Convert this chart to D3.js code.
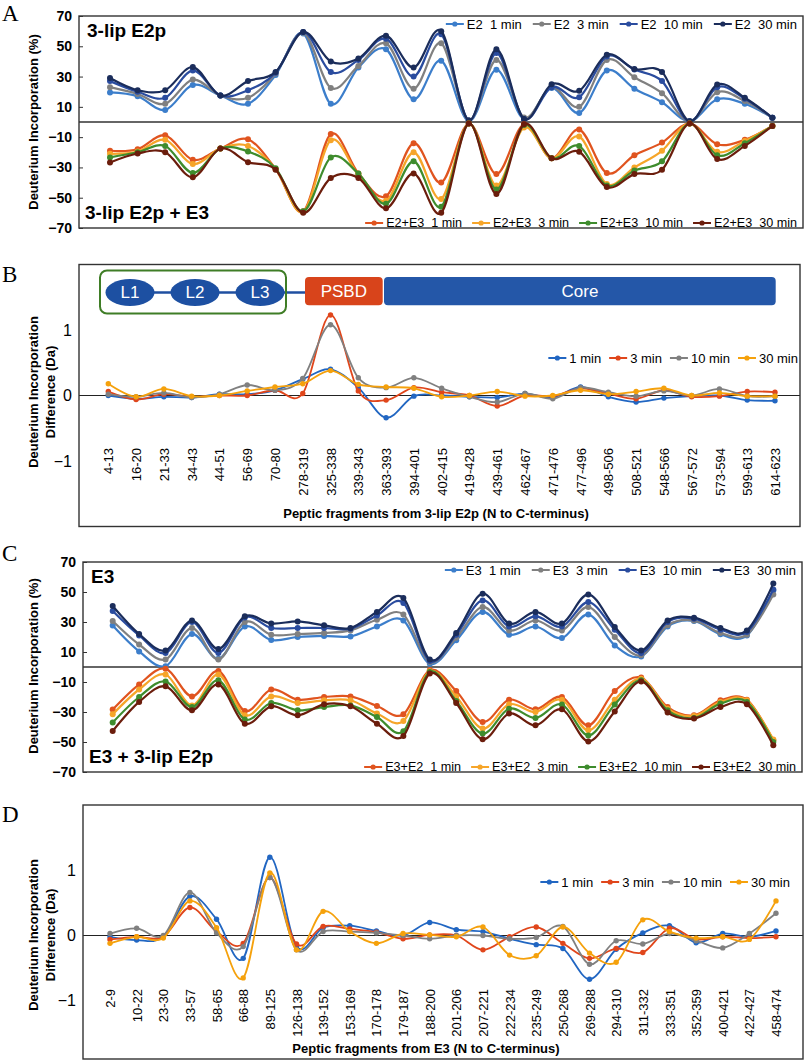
<!DOCTYPE html>
<html><head><meta charset="utf-8">
<script src="https://cdn.jsdelivr.net/npm/d3@7"></script>
<style>
body{margin:0;background:#fff}
svg{display:block}
text{font-family:"Liberation Sans",Arial,sans-serif;fill:#000}
</style>
</head><body>
<svg id="chart" width="805" height="1061"></svg>
<script>
// ---------- DATA ----------
const fragE2p = ["4-13","16-20","21-33","34-43","44-51","56-69","70-80","278-319","325-338","339-343","363-393","394-401","402-415","419-428","439-461","462-467","471-476","477-496","498-506","508-521","548-566","567-572","573-594","599-613","614-623"];
const fragE3 = ["2-9","10-22","23-30","33-57","58-65","66-88","89-125","126-138","139-152","153-169","170-178","179-187","188-200","201-206","207-221","222-234","235-249","250-268","269-288","294-310","311-332","333-351","352-359","400-421","422-427","458-474"];
const timeLabels = ["1 min","3 min","10 min","30 min"];
const ticksPercent = [70,50,30,10,-10,-30,-50,-70];
const ticksDa = [1,0,-1];

// Panel A: 3-lip E2p alone (upper) and with E3 (lower), % incorporation
const aE2_1  = [19.5,17,8,24.5,17.5,12,31,58.5,12,36,48,15,40.5,0.5,34.5,2,22.5,6,34,22,13,0.5,15,12,2.8];
const aE2_3  = [23,18.5,12,28,17.5,16,32,59,22.5,37,52,22,52,1,41,3,23,10,41,29.5,19,0.5,19.7,13.8,2.8];
const aE2_10 = [27,20,16,34,17.5,21,32.5,59.5,33,41,55,30,58,1,45.5,2,23,16.4,43.3,34.6,27,0.5,23,15.3,2.8];
const aE2_30 = [29,21,21,36.3,17.5,27,33,59.5,40,42,57,36,60,1,48,2,25,20.6,44.4,35,33,0.5,24.7,16,2.8];
const aE2E3_1  = [-19,-18,-8.8,-25,-17.5,-11.4,-31,-59,-8,-34,-49,-14,-40,-1,-34.4,-1.5,-24,-5,-33.7,-22,-13.6,-1,-14.7,-11.8,-2.6];
const aE2E3_3  = [-21,-19.5,-11.8,-27.8,-17.5,-15.8,-31,-59.5,-12,-35,-52,-20,-50.8,-1,-42,-3.7,-24,-9.6,-41,-30,-19,-1,-19.7,-12.5,-2.6];
const aE2E3_10 = [-23.4,-20,-15.8,-33.7,-17.5,-19.5,-30.5,-59,-23.4,-34,-54,-26,-56,-1,-44.6,-2,-24,-15.8,-42,-32,-26,-1,-22,-14,-2.6];
const aE2E3_30 = [-26.7,-20.8,-20,-36.5,-17.5,-26.5,-31.5,-60,-37,-37,-57,-34,-60,-1,-47.5,-1.5,-24,-19.7,-43,-34.4,-31.5,-1,-24.5,-15.8,-2.6];

// Panel B: difference (Da) for 3-lip E2p
const bDiff_1  = [0.0,-0.05,-0.02,-0.03,0.02,0.02,0.08,0.25,0.40,0.12,-0.34,-0.01,0.0,-0.02,-0.03,0.03,-0.03,0.13,-0.02,-0.1,-0.04,-0.01,0.0,-0.07,-0.08];
const bDiff_3  = [0.06,-0.06,0.02,-0.02,0.0,0.0,0.08,0.03,1.23,0.07,-0.07,0.12,0.05,0.0,-0.16,0.0,-0.01,0.11,0.03,-0.05,0.08,-0.02,-0.01,0.06,0.05];
const bDiff_10 = [0.02,-0.02,0.04,-0.03,0.02,0.16,0.08,0.26,1.08,0.27,0.12,0.27,0.11,-0.02,-0.1,0.03,-0.05,0.12,0.05,-0.01,0.07,0.0,0.1,-0.01,-0.01];
const bDiff_30 = [0.18,-0.02,0.1,-0.01,0.0,0.07,0.13,0.18,0.38,0.17,0.13,0.11,-0.02,0.0,0.06,-0.01,0.0,0.08,0.02,0.06,0.11,0.0,0.04,-0.01,-0.01];

// Panel C: E3 alone (upper) and with 3-lip E2p (lower), % incorporation
const cE3_1  = [27.6,10.4,0.5,22,5.5,27,18,20,20.7,20.4,27,31,2.2,17.8,36.7,21.5,27,19.3,35,14.4,7,27,30.7,21.8,21,51];
const cE3_3  = [30.7,15,5,26,5,30,21.5,22,22.7,24.4,31.5,35,3.3,19.5,40,24.4,31,24.4,40,20,7.8,27.8,31,22.7,21.5,48.4];
const cE3_10 = [37.3,21,9.3,30,9.3,33,26,26,26,25.5,34.4,42.7,4,21.5,44.4,27,33.8,27,43.3,24.9,9.3,30,32.2,24.9,23.3,51.6];
const cE3_30 = [40.7,22,11,31,12,33.8,29,30.4,27.8,26,36.7,46,5,22.7,48.9,29,36.7,29,48.4,26.7,11,31,32.9,26,24.4,55.6];
const cE3E2_1  = [-28.4,-11.6,-1.1,-19.6,-2.7,-29.3,-15,-21.8,-20,-19.6,-26,-31.5,-2.2,-16,-36.7,-21.8,-28.2,-20,-38.9,-16,-7,-26.7,-32.2,-22.2,-21.8,-48.9];
const cE3E2_3  = [-31.5,-15,-5,-25.6,-5,-32.2,-19.6,-24,-22.2,-22.2,-31,-36,-2.9,-19.6,-41,-24.9,-30,-21.8,-42.2,-21.8,-7.8,-27.8,-32.7,-23.3,-22.2,-48.4];
const cE3E2_10 = [-37,-20,-9.6,-26.7,-8.9,-35,-24,-28.9,-26.7,-25.6,-33.3,-42.9,-3.3,-22.7,-44.4,-27.8,-34,-25,-45.6,-25,-8.9,-28.9,-34,-24.4,-23.3,-50];
const cE3E2_30 = [-42.7,-23.3,-12.9,-28.9,-11.6,-37.8,-26.2,-32.2,-24.9,-26.2,-37.8,-46,-4.4,-24,-48.2,-31,-38.9,-28.2,-49.6,-29.6,-9.6,-30.4,-34.4,-26.7,-24.9,-52.2];

// Panel D: difference (Da) for E3
const dDiff_1  = [-0.02,-0.07,-0.02,0.6,0.25,-0.35,1.2,-0.17,0.12,0.15,0.07,0.0,0.2,0.09,0.06,-0.05,-0.14,-0.2,-0.67,-0.21,0.04,0.15,-0.11,0.03,-0.02,0.07];
const dDiff_3  = [-0.06,-0.02,-0.02,0.43,0.06,-0.12,0.89,-0.13,0.14,0.1,0.05,-0.05,0.01,0.0,-0.22,-0.02,0.13,-0.12,-0.35,-0.2,-0.26,0.11,-0.06,-0.02,-0.04,-0.02];
const dDiff_10 = [0.03,0.11,0.0,0.66,0.04,-0.17,0.89,-0.22,0.06,0.06,0.04,0.0,-0.05,0.0,0.0,-0.05,-0.03,0.14,-0.44,-0.08,-0.13,0.03,-0.08,-0.19,0.03,0.34];
const dDiff_30 = [-0.12,-0.02,-0.04,0.53,0.12,-0.65,0.96,-0.22,0.37,0.06,-0.12,0.03,0.01,-0.02,0.13,-0.3,-0.31,0.13,-0.27,-0.41,0.24,0.06,-0.04,-0.02,-0.06,0.53];

// ---------- STYLE ----------
const upperColors = ["#3c7ecb","#808080","#2a4c9f","#1b2d5b"];
const lowerColors = ["#e0541f","#f6a529","#3e8c2d","#6b1d0c"];
const diffColors  = ["#2166c2","#e0461b","#808080","#f5a10c"];
const curve = d3.curveCardinal.tension(0);
const svg = d3.select("#chart");

function frame(p){
  svg.append("rect").attr("x",p.l).attr("y",p.t).attr("width",p.r-p.l).attr("height",p.b-p.t)
    .attr("fill","none").attr("stroke","#333").attr("stroke-width",1.4);
}
function drawSeries(g, x, y, labels, values, color, lw, rad){
  const line = d3.line().x((d,i)=>x(labels[i])).y(d=>y(d)).curve(curve);
  g.append("path").datum(values).attr("d",line).attr("fill","none")
    .attr("stroke",color).attr("stroke-width",lw).attr("stroke-linejoin","round");
  g.append("g").selectAll("circle").data(values).join("circle")
    .attr("cx",(d,i)=>x(labels[i])).attr("cy",d=>y(d)).attr("r",rad).attr("fill",color);
}
function legend(entries, rightX, cy, gap, fs){
  const g = svg.append("g");
  let cx = 0;
  entries.forEach(e=>{
    const it = g.append("g").attr("transform",`translate(${cx},0)`);
    it.append("line").attr("x1",0).attr("x2",18).attr("y1",cy).attr("y2",cy).attr("stroke",e.color).attr("stroke-width",2);
    it.append("circle").attr("cx",9).attr("cy",cy).attr("r",2.6).attr("fill",e.color);
    const t = it.append("text").attr("x",21).attr("y",cy).attr("dy","0.35em")
      .style("font-size",fs+"px").style("white-space","pre").attr("xml:space","preserve").text(e.name);
    cx += 21 + t.node().getComputedTextLength() + gap;
  });
  const total = cx - gap;
  g.attr("transform",`translate(${rightX-total},0)`);
}
function yTitle(lines, cx, cy, step){
  lines.forEach((s,i)=>{
    svg.append("text").attr("transform",`translate(${cx+i*step},${cy}) rotate(-90)`)
      .attr("text-anchor","middle").attr("dy","0.35em")
      .style("font-size","13px").style("font-weight","bold").text(s);
  });
}
function panelLetter(s, y){
  svg.append("text").attr("x",2).attr("y",y).style("font-family","'Liberation Serif','Times New Roman',serif")
    .style("font-size","23px").text(s);
}

// ---------- PERCENT PANELS (A, C) ----------
function percentPanel(p, labels, upper, lower, upNames, lowNames, topLabel, botLabel){
  const x = d3.scalePoint().domain(labels).range([p.x0,p.x1]);
  const y = d3.scaleLinear().domain([-70,70]).range([p.b,p.t]);
  const ax = svg.append("g").attr("transform",`translate(${p.l},0)`)
    .call(d3.axisLeft(y).tickValues(ticksPercent).tickSize(-4).tickPadding(7));
  ax.select(".domain").remove();
  ax.selectAll(".tick line").attr("stroke","#333");
  ax.selectAll("text").style("font-size","14px").style("font-weight","bold").style("font-family","'Liberation Sans',Arial,sans-serif");
  svg.append("line").attr("x1",p.l).attr("x2",p.r).attr("y1",y(0)).attr("y2",y(0)).attr("stroke","#333").attr("stroke-width",1.4);
  const g = svg.append("g");
  upper.forEach((v,i)=>drawSeries(g,x,y,labels,v,upperColors[i],2.2,3));
  lower.forEach((v,i)=>drawSeries(g,x,y,labels,v,lowerColors[i],2.2,3));
  frame(p);
  svg.append("text").attr("x",p.l+8).attr("y",p.t+14).attr("dy","0.35em")
    .style("font-size","19px").style("font-weight","bold").text(topLabel);
  svg.append("text").attr("x",p.l+6).attr("y",p.b-16).attr("dy","0.35em")
    .style("font-size","19px").style("font-weight","bold").text(botLabel);
  legend(upNames.map((n,i)=>({name:n,color:upperColors[i]})), p.r-6, p.t+8, 11, 13);
  legend(lowNames.map((n,i)=>({name:n,color:lowerColors[i]})), p.r-6, p.b-5, 10, 12.6);
}

// ---------- DIFF PANELS (B, D) ----------
function diffPanel(p, labels, series, xTitle, labelTop){
  const x = d3.scalePoint().domain(labels).range([p.x0,p.x1]);
  const y = d3.scaleLinear().domain([-2,2]).range([p.y0,p.y2]);
  const ax = svg.append("g").attr("transform",`translate(${p.l},0)`)
    .call(d3.axisLeft(y).tickValues(ticksDa).tickSize(0).tickPadding(7).tickFormat(d3.format("d")));
  ax.select(".domain").remove();
  ax.selectAll("text").style("font-size","16px").style("font-family","'Liberation Sans',Arial,sans-serif");
  svg.append("line").attr("x1",p.l).attr("x2",p.r).attr("y1",y(0)).attr("y2",y(0)).attr("stroke","#222").attr("stroke-width",1.2);
  const g = svg.append("g");
  series.forEach((v,i)=>drawSeries(g,x,y,labels,v,diffColors[i],1.8,2.7));
  const xa = svg.append("g").attr("transform",`translate(0,${labelTop})`)
    .call(d3.axisBottom(x).tickSize(0));
  xa.select(".domain").remove();
  xa.selectAll("text").attr("x",0).attr("y",0).attr("dy","0.35em").attr("transform","rotate(-90)")
    .style("text-anchor","end").style("font-size","13px").style("font-family","'Liberation Sans',Arial,sans-serif");
  frame(p);
  svg.append("text").attr("x",p.titleX).attr("y",p.titleY).attr("text-anchor","middle")
    .style("font-size","13px").style("font-weight","bold").text(xTitle);
  legend(timeLabels.map((n,i)=>({name:n,color:diffColors[i]})), p.legR, p.legY, 8, 13);
}

// Panel A
const pA = {l:79,r:803,t:16,b:228,x0:110,x1:772.4};
percentPanel(pA, fragE2p, [aE2_1,aE2_3,aE2_10,aE2_30], [aE2E3_1,aE2E3_3,aE2E3_10,aE2E3_30],
  timeLabels.map(t=>"E2  "+t), timeLabels.map(t=>"E2+E3  "+t), "3-lip E2p", "3-lip E2p + E3");
panelLetter("A", 20.5);
yTitle(["Deuterium Incorporation (%)"], 33, 122, 0);

// Panel B
const pB = {l:79,r:800,t:264.5,b:526.5,x0:108.3,x1:775,y0:526.5,y2:264.5,titleX:436,titleY:518,legR:798,legY:358};
// domain diagram
svg.append("line").attr("x1",130).attr("x2",306).attr("y1",292.5).attr("y2",292.5).attr("stroke","#1f4fa0").attr("stroke-width",2.5);
svg.append("rect").attr("x",100).attr("y",270.5).attr("width",186).attr("height",43).attr("rx",7)
  .attr("fill","none").attr("stroke","#3f7d26").attr("stroke-width",2);
["L1","L2","L3"].forEach((s,i)=>{
  const cx = 130 + i*65;
  svg.append("ellipse").attr("cx",cx).attr("cy",292.5).attr("rx",24.5).attr("ry",13.5).attr("fill","#1d50a2");
  svg.append("text").attr("x",cx).attr("y",292.5).attr("dy","0.35em").attr("text-anchor","middle")
    .style("font-size","17px").style("fill","#fff").text(s);
});
svg.append("rect").attr("x",305).attr("y",277).attr("width",77.7).attr("height",28.3).attr("rx",4).attr("fill","#d8441b");
svg.append("text").attr("x",343.8).attr("y",291.2).attr("dy","0.35em").attr("text-anchor","middle")
  .style("font-size","17px").style("fill","#fff").text("PSBD");
svg.append("rect").attr("x",384).attr("y",277).attr("width",391.7).attr("height",28.3).attr("rx",4).attr("fill","#2457a8");
svg.append("text").attr("x",580).attr("y",291.2).attr("dy","0.35em").attr("text-anchor","middle")
  .style("font-size","17px").style("fill","#fff").text("Core");
diffPanel(pB, fragE2p, [bDiff_1,bDiff_3,bDiff_10,bDiff_30], "Peptic fragments from 3-lip E2p (N to C-terminus)", 448);
panelLetter("B", 281.5);
yTitle(["Deuterium Incorporation","Difference (Da)"], 33, 392, 17);

// Panel C
const pC = {l:83,r:802,t:562,b:772,x0:112.7,x1:773.3};
percentPanel(pC, fragE3, [cE3_1,cE3_3,cE3_10,cE3_30], [cE3E2_1,cE3E2_3,cE3E2_10,cE3E2_30],
  timeLabels.map(t=>"E3  "+t), timeLabels.map(t=>"E3+E2  "+t), "E3", "E3 + 3-lip E2p");
panelLetter("C", 560.5);
yTitle(["Deuterium Incorporation (%)"], 33, 666, 0);

// Panel D
const pD = {l:83,r:803,t:805,b:1059,x0:110,x1:776,y0:1066,y2:805,titleX:426,titleY:1053,legR:790,legY:882};
diffPanel(pD, fragE3, [dDiff_1,dDiff_3,dDiff_10,dDiff_30], "Peptic fragments from E3 (N to C-terminus)", 989);
panelLetter("D", 821.5);
yTitle(["Deuterium Incorporation","Difference (Da)"], 33, 935, 17);
</script>
</body></html>
